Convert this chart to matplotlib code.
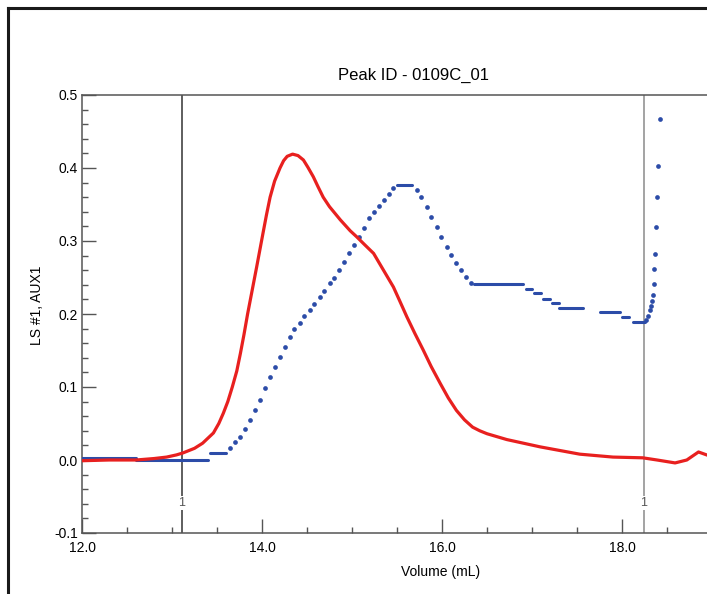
import numpy as np
import matplotlib
matplotlib.use('Agg')
import matplotlib.pyplot as plt
from matplotlib.lines import Line2D
from matplotlib.ticker import MultipleLocator, FormatStrFormatter

plt.rcParams['font.family'] = ['Liberation Sans', 'DejaVu Sans']

# LS #1 trace (red)
red_x = [12.0, 12.3, 12.6, 12.8, 12.94, 13.05, 13.12, 13.25, 13.34, 13.46,
         13.52, 13.57, 13.62, 13.67, 13.72, 13.76, 13.80, 13.84, 13.89, 13.94,
         14.01, 14.05, 14.09, 14.14, 14.20, 14.24, 14.28, 14.34, 14.40, 14.46,
         14.51, 14.57, 14.62, 14.68, 14.75, 14.87, 14.98, 15.05, 15.14, 15.24,
         15.35, 15.46, 15.53, 15.61, 15.70, 15.79, 15.88, 15.98, 16.07, 16.16,
         16.25, 16.34, 16.42, 16.50, 16.72, 17.09, 17.53, 17.90, 18.23, 18.39,
         18.59, 18.72, 18.85, 18.94]
red_y = [-0.001, 0.0, 0.0, 0.002, 0.004, 0.007, 0.0096, 0.016, 0.023, 0.037,
         0.050, 0.064, 0.080, 0.100, 0.122, 0.146, 0.172, 0.200, 0.232, 0.264,
         0.310, 0.336, 0.360, 0.382, 0.400, 0.410, 0.416, 0.419, 0.417, 0.411,
         0.401, 0.388, 0.375, 0.360, 0.347, 0.329, 0.314, 0.306, 0.295, 0.283,
         0.260, 0.237, 0.218, 0.196, 0.173, 0.151, 0.128, 0.105, 0.085, 0.068,
         0.055, 0.045, 0.040, 0.036, 0.028, 0.018, 0.008, 0.004, 0.003, 0.0,
         -0.004, 0.0, 0.011, 0.007]

# AUX1 trace (blue): single dots on the slopes
blue_x = [13.64, 13.70, 13.76, 13.81, 13.87, 13.92, 13.98, 14.03, 14.09, 14.14,
          14.20, 14.25, 14.31, 14.36, 14.42, 14.47, 14.53, 14.58, 14.64, 14.69,
          14.75, 14.80, 14.86, 14.91, 14.97, 15.02, 15.08, 15.13, 15.19, 15.24,
          15.30, 15.35, 15.41, 15.46,
          15.72, 15.77, 15.83, 15.88, 15.94, 15.99, 16.05, 16.10, 16.16, 16.21,
          16.27, 16.32,
          18.27, 18.29, 18.31, 18.32, 18.33, 18.34, 18.35, 18.36, 18.37, 18.38,
          18.39, 18.40, 18.42]
blue_y = [0.016, 0.024, 0.032, 0.043, 0.055, 0.068, 0.082, 0.098, 0.114, 0.128,
          0.141, 0.155, 0.169, 0.179, 0.188, 0.197, 0.205, 0.214, 0.223, 0.232,
          0.242, 0.250, 0.260, 0.271, 0.283, 0.294, 0.306, 0.318, 0.331, 0.340,
          0.348, 0.356, 0.365, 0.372,
          0.370, 0.360, 0.347, 0.333, 0.319, 0.305, 0.292, 0.281, 0.270, 0.260,
          0.251, 0.243,
          0.192, 0.197, 0.205, 0.211, 0.218, 0.226, 0.241, 0.262, 0.282, 0.319,
          0.360, 0.403, 0.467]

# AUX1 flat runs (start, end, level)
flat_x0 = [12.0, 12.6, 13.42, 15.50, 16.36, 16.93, 17.02, 17.12, 17.22, 17.30, 17.75, 18.00, 18.12]
flat_x1 = [12.6, 13.40, 13.60, 15.67, 16.90, 17.00, 17.10, 17.20, 17.30, 17.57, 17.98, 18.08, 18.25]
flat_y = [0.003, 0.0, 0.009, 0.377, 0.241, 0.234, 0.229, 0.220, 0.215, 0.208, 0.203, 0.196, 0.189]

markers_x = [13.11, 18.24]
marker_colors = ['#333333', '#8a8a8a']

RED = '#e8201f'
BLUE = '#2c4ca8'

fig = plt.figure(figsize=(7.07, 5.94), dpi=100)
ax = fig.add_axes([82/707, 1-533/594, 1-82/707, (533-95)/594])

for x0, x1, y in zip(flat_x0, flat_x1, flat_y):
    ax.plot([x0, x1], [y, y], color=BLUE, lw=2.2, solid_capstyle='round', zorder=3)
ax.plot(blue_x, blue_y, 'o', color=BLUE, ms=3.4, mew=0, zorder=3)
ax.plot(red_x, red_y, color=RED, lw=2.3, zorder=4)

for xv, c in zip(markers_x, marker_colors):
    ax.axvline(xv, color=c, lw=1.1, zorder=2)
    ax.text(xv, -0.059, '1', ha='center', va='center', fontsize=9, color='#555555',
            bbox=dict(facecolor='white', edgecolor='none', pad=0.5), zorder=2.5)

ax.set_xlim(12.0, 12 + 625/90)
ax.set_ylim(-0.1, 0.5)
ax.xaxis.set_major_locator(MultipleLocator(2.0))
ax.xaxis.set_minor_locator(MultipleLocator(0.5))
ax.yaxis.set_major_locator(MultipleLocator(0.1))
ax.yaxis.set_minor_locator(MultipleLocator(0.02))
ax.xaxis.set_major_formatter(FormatStrFormatter('%.1f'))
ax.yaxis.set_major_formatter(FormatStrFormatter('%.1f'))
ax.tick_params(which='major', direction='in', length=10, width=1, color='#555555',
               labelsize=10, pad=3)
ax.tick_params(which='minor', direction='in', length=4.3, width=1, color='#555555')
ax.tick_params(axis='x', which='major', pad=6)
ax.spines['right'].set_visible(False)
for s in ['left', 'top', 'bottom']:
    ax.spines[s].set_color('#555555')
    ax.spines[s].set_linewidth(1.1)

fig.text(413/707, 1-75/594, 'Peak ID - 0109C_01', ha='center', va='center', fontsize=12)
fig.text(441/707, 1-572/594, 'Volume (mL)', ha='center', va='center', fontsize=10)
fig.text(37/707, 1-305/594, 'LS #1, AUX1', ha='center', va='center', rotation=90, fontsize=10)

# screenshot frame
fig.add_artist(Line2D([8/707, 8/707], [1-8/594, 0], transform=fig.transFigure,
                      color='#1a1a1a', lw=2.2))
fig.add_artist(Line2D([8/707, 1], [1-8/594, 1-8/594], transform=fig.transFigure,
                      color='#1a1a1a', lw=2.2))

fig.savefig('out.png', dpi=100)
